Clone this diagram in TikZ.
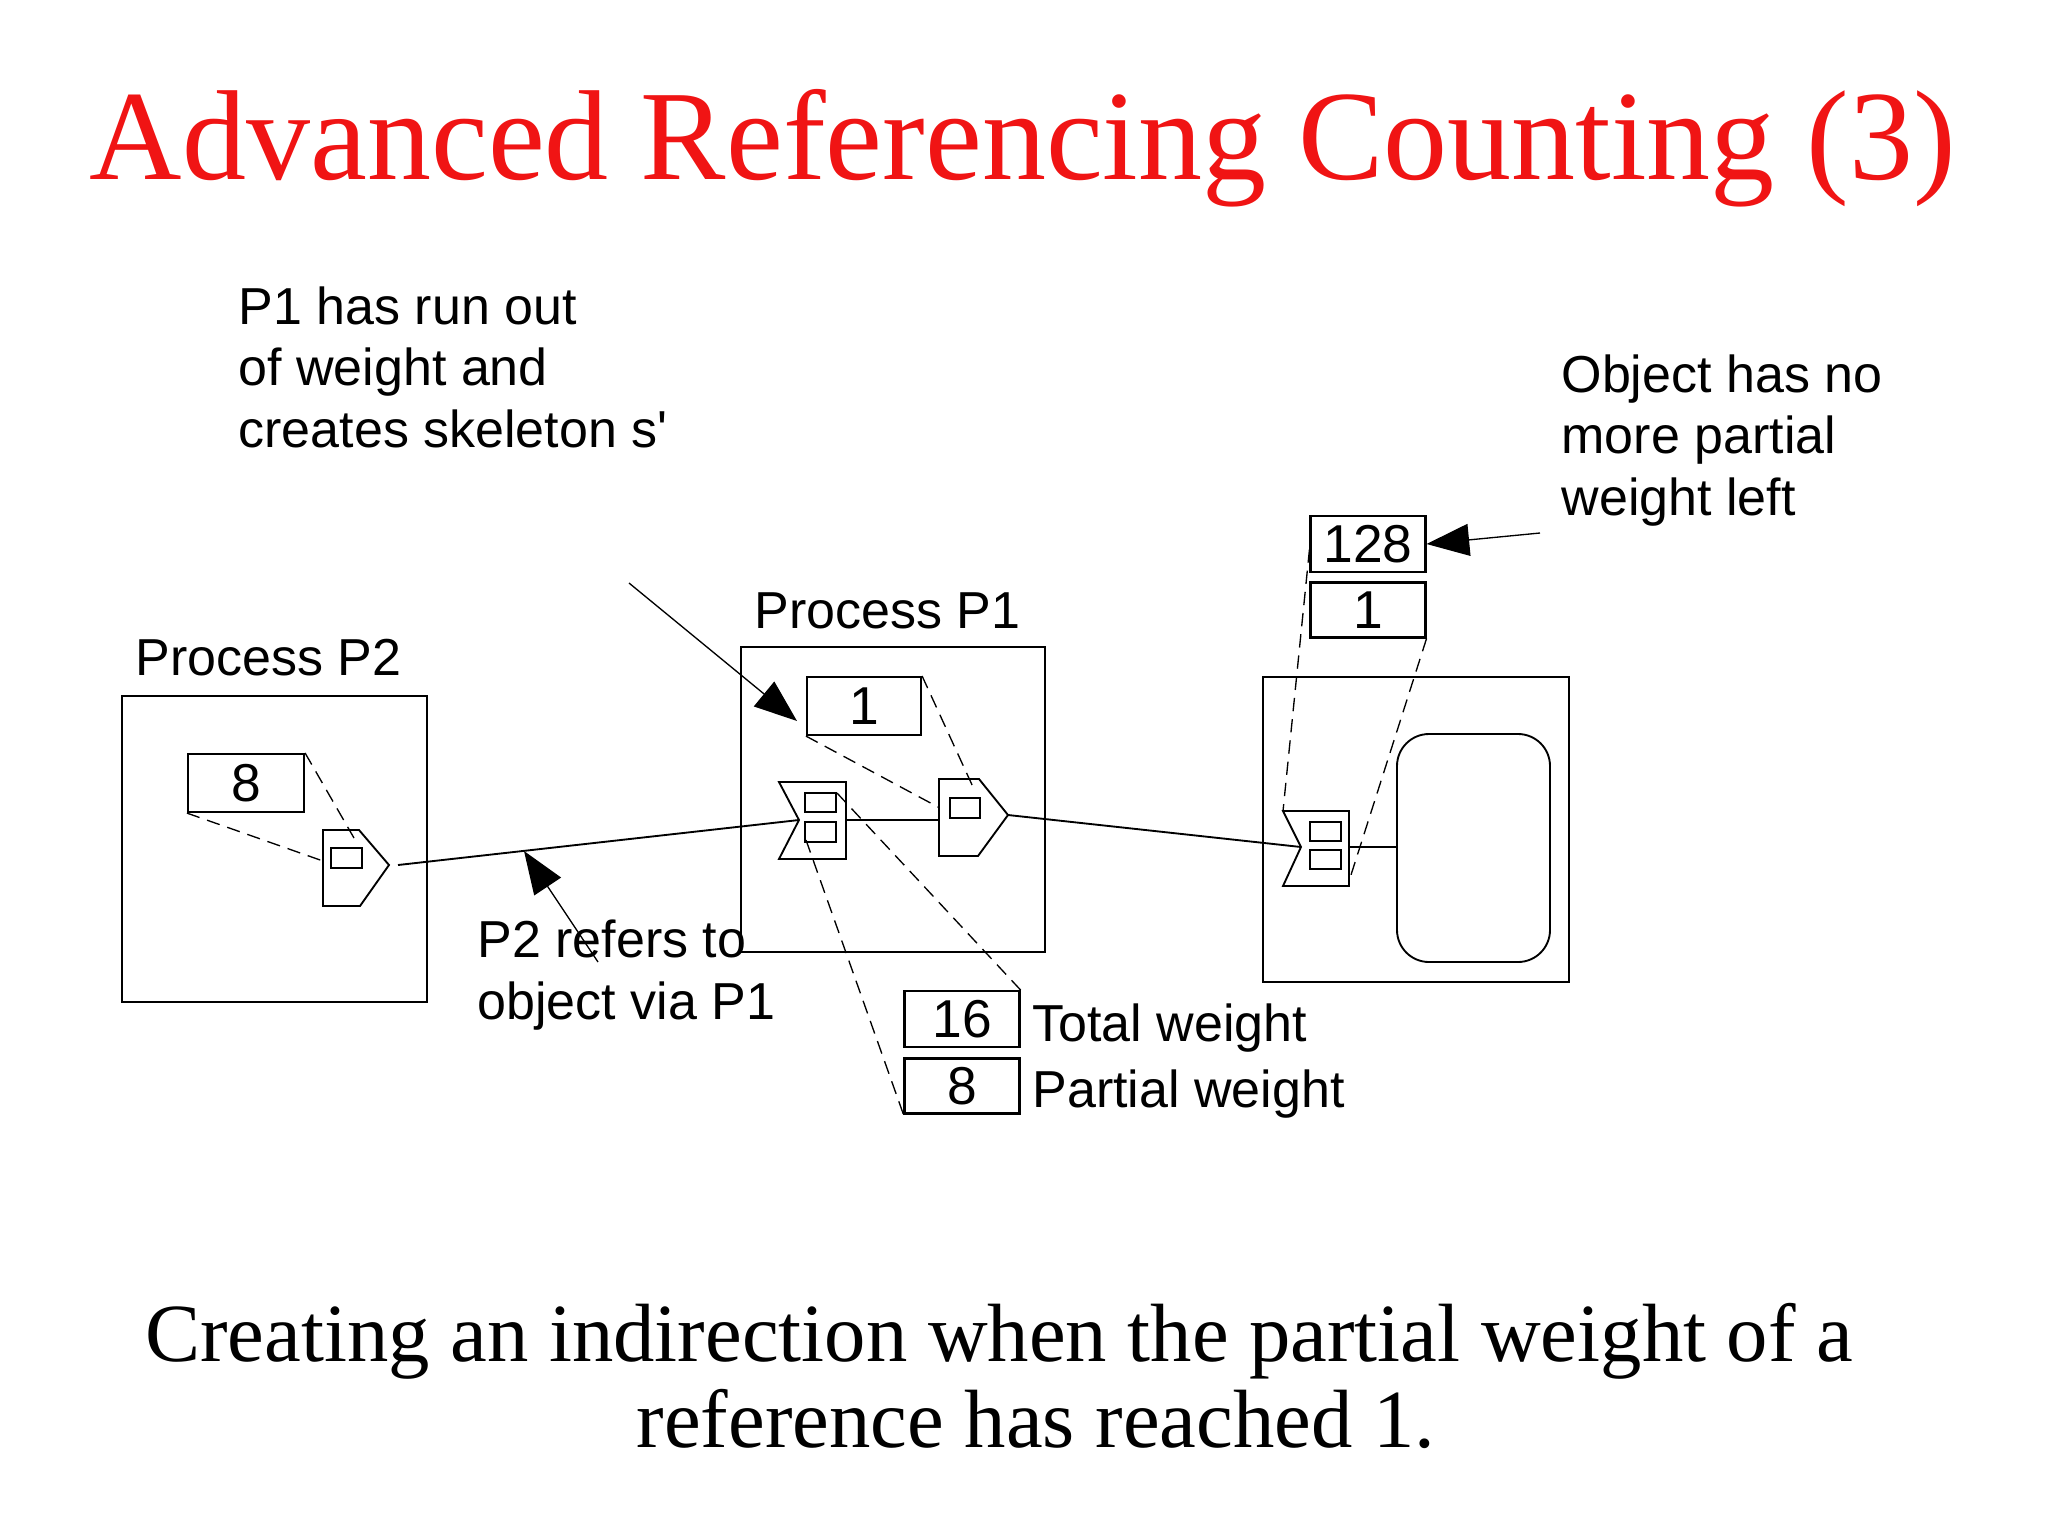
\documentclass[tikz,border=0pt]{standalone}
\usepackage{fontspec}
\setmainfont{Liberation Serif}
\newfontfamily\arial{Liberation Sans}
\usetikzlibrary{arrows.meta}
\definecolor{titlered}{RGB}{240,20,20}
\tikzset{
  line/.style={line width=0.7pt},
  wdash/.style={line width=0.5pt, dash pattern=on 5pt off 3pt},
  numbox/.style={draw, line width=0.8pt, inner sep=0pt, font=\arial\fontsize{20}{22}\selectfont},
  lbl/.style={anchor=base west, inner sep=0pt, font=\arial\fontsize{19.5}{22.9}\selectfont, align=left},
  bigarrow/.style={line width=0.5pt, -{Triangle[length=16pt,width=12pt]}},
}
\begin{document}
\begin{tikzpicture}[x=0.375pt,y=-0.375pt]
\useasboundingbox[fill=white] (0,0) rectangle (2048,1536);
% title and caption
\node[anchor=base, inner sep=0pt, text=titlered, font=\fontsize{48}{52}\selectfont] (title) at (1023,179) {Advanced Referencing Counting (3)};
\node[anchor=base, inner sep=0pt, font=\fontsize{31}{35}\selectfont] (cap1) at (999,1361) {Creating an indirection when the partial weight of a};
\node[anchor=base, inner sep=0pt, font=\fontsize{31}{35}\selectfont] (cap2) at (1036,1447) {reference has reached 1.};
% process boxes
\draw[line] (122,696) rectangle (427,1002);
\draw[line] (741,647) rectangle (1045,952);
\draw[line] (1263,677) rectangle (1569,982);
\draw[line, rounded corners=12pt] (1397,734) rectangle (1550,962);
\node[lbl] (lp2) at (135,675) {Process P2};
\node[lbl] (lp1) at (754,628) {Process P1};
% number boxes
\node[numbox, minimum width=43.5pt, minimum height=21.75pt] (b8) at (246,783) {8};
\node[numbox, minimum width=42.75pt, minimum height=21.75pt] (b1) at (864,706) {1};
\node[numbox, minimum width=43.1pt, minimum height=21pt] (b128) at (1368,544) {128};
\node[numbox, minimum width=43.1pt, minimum height=20.6pt] (bo1) at (1368,610) {1};
\node[numbox, minimum width=43.1pt, minimum height=21pt] (b16) at (962,1019) {16};
\node[numbox, minimum width=43.1pt, minimum height=20.6pt] (bp8) at (962,1086) {8};
% proxies
\coordinate (p2tip) at (389,865);
\draw[line] (323,830) -- (359,830) -- (p2tip) -- (360,906) -- (323,906) -- cycle;
\draw[line] (331,848) rectangle (362,868);
\coordinate (sktip) at (1008,815);
\coordinate (skleft) at (939,820);
\draw[line] (939,779) -- (979,779) -- (sktip) -- (978,856) -- (939,856) -- cycle;
\draw[line] (950,798) rectangle (980,818);
\coordinate (scnotch) at (799,820);
\coordinate (scright) at (846,820);
\draw[line] (779,782) -- (846,782) -- (846,859) -- (779,859) -- (scnotch) -- cycle;
\draw[line] (805,793) rectangle (836,812);
\draw[line] (805,822) rectangle (836,842);
\coordinate (onotch) at (1301,847);
\coordinate (oright) at (1349,847);
\coordinate (objleft) at (1397,847);
\draw[line] (1283,811) -- (1349,811) -- (1349,886) -- (1283,886) -- (onotch) -- cycle;
\draw[line] (1310,822) rectangle (1341,841);
\draw[line] (1310,850) rectangle (1341,869);
% solid references
\coordinate (p2start) at (398,865);
\draw[line] (p2start) -- (scnotch);
\draw[line] (scright) -- (skleft);
\draw[line] (sktip) -- (onotch);
\draw[line] (oright) -- (objleft);
% dashed weight links
\draw[wdash] (b8.north east) -- (354,838);
\draw[wdash] (b8.south west) -- (323,861);
\draw[wdash] (b1.south west) -- (938,807);
\draw[wdash] (b1.north east) -- (973,787);
\draw[wdash] (837,793) -- (b16.north east);
\draw[wdash] (806,840) -- (bp8.south west);
\draw[wdash] ([yshift=-2pt]b128.west) -- (1283,811);
\draw[wdash] (bo1.south east) -- (1350,878);
% labels and pointers
\node[lbl] (t1) at (238,447) {P1 has run out\\of weight and\\creates skeleton s'};
\node[lbl] (t2) at (1561,515) {Object has no\\more partial\\weight left};
\node[lbl] (t3) at (477,1019) {P2 refers to\\object via P1};
\node[lbl] (tw) at (1032,1041) {Total weight};
\node[lbl] (pw) at (1032,1107) {Partial weight};
\coordinate (a1s) at (629,583);
\coordinate (a1e) at (797,721);
\draw[bigarrow] (a1s) -- (a1e);
\coordinate (a2s) at (598,962);
\coordinate (a2e) at (524,851);
\draw[bigarrow] (a2s) -- (a2e);
\coordinate (a3s) at (1540,533);
\draw[bigarrow] (a3s) -- (b128.east);
\end{tikzpicture}
\end{document}
